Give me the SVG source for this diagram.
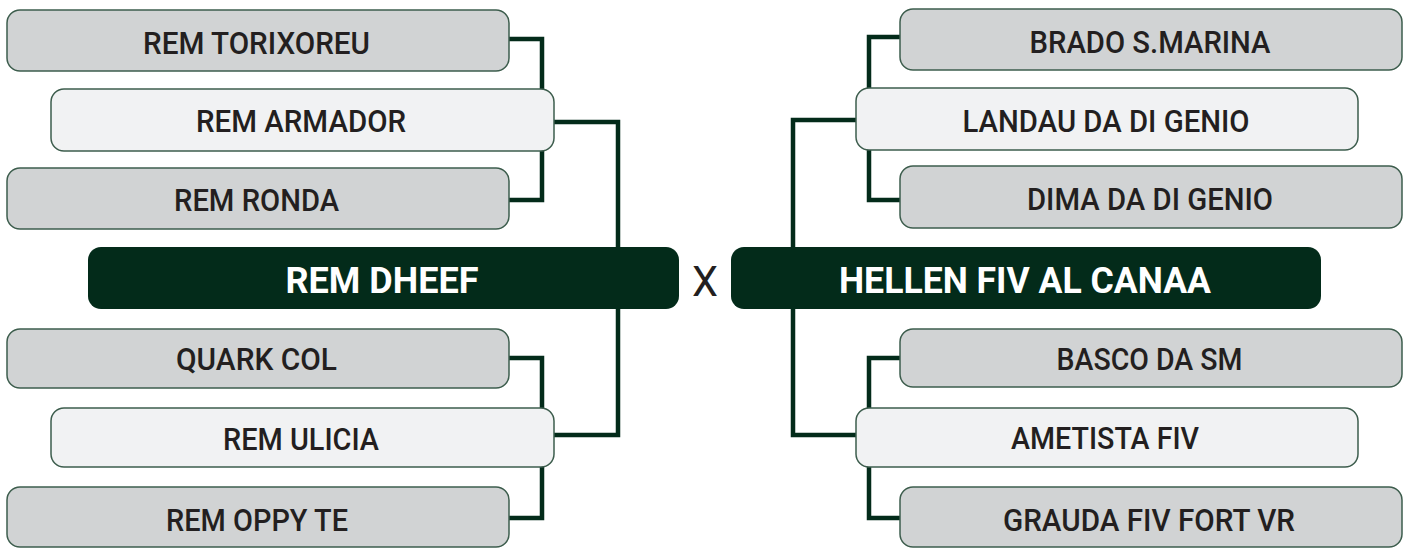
<svg xmlns="http://www.w3.org/2000/svg" width="1412" height="549" viewBox="0 0 1412 549">
  <style>
    .team rect { stroke: #3d5d4d; stroke-width: 1.5; }
    .gray rect { fill: #d1d3d4; }
    .light rect { fill: #f1f2f3; }
    .main rect { fill: #032b1a; stroke: none; }
    text { font-family: Roboto, "Liberation Sans", Arial, sans-serif; text-anchor: middle; }
    .team text { font-size: 32px; font-weight: 500; fill: #231f20; }
    .main text { font-size: 37px; font-weight: 700; fill: #ffffff; }
    .vs { font-size: 43px; font-weight: 400; fill: #231f20; }
    .conn { fill: none; stroke: #032b1a; stroke-width: 4.5; }
  </style>

  <g id="connectors" class="conn">
    <polyline points="509,39 542,39 542,200 509,200"/>
    <polyline points="509,358 542,358 542,518 509,518"/>
    <polyline points="553,122 618,122 618,435 553,435"/>
    <polyline points="900,37 869,37 869,200 900,200"/>
    <polyline points="900,358 869,358 869,518 900,518"/>
    <polyline points="856,120 793,120 793,435 856,435"/>
  </g>

  <g id="rem-torixoreu" class="team gray">
    <rect x="7" y="10" width="502" height="61" rx="13"/>
    <text x="256.5" y="54" textLength="227" lengthAdjust="spacingAndGlyphs">REM TORIXOREU</text>
  </g>
  <g id="rem-armador" class="team light">
    <rect x="51" y="89" width="503" height="62" rx="13"/>
    <text x="301" y="132" textLength="210" lengthAdjust="spacingAndGlyphs">REM ARMADOR</text>
  </g>
  <g id="rem-ronda" class="team gray">
    <rect x="7" y="168" width="502" height="61" rx="13"/>
    <text x="256.5" y="211" textLength="165" lengthAdjust="spacingAndGlyphs">REM RONDA</text>
  </g>
  <g id="rem-dheef" class="main">
    <rect x="88" y="247" width="591" height="62" rx="13"/>
    <text x="382" y="293" textLength="193" lengthAdjust="spacingAndGlyphs">REM DHEEF</text>
  </g>
  <g id="quark-col" class="team gray">
    <rect x="7" y="329" width="502" height="59" rx="13"/>
    <text x="256.5" y="370" textLength="161" lengthAdjust="spacingAndGlyphs">QUARK COL</text>
  </g>
  <g id="rem-ulicia" class="team light">
    <rect x="51" y="408" width="503" height="59" rx="13"/>
    <text x="301" y="450" textLength="156" lengthAdjust="spacingAndGlyphs">REM ULICIA</text>
  </g>
  <g id="rem-oppy-te" class="team gray">
    <rect x="7" y="487" width="502" height="60" rx="13"/>
    <text x="257" y="531" textLength="182" lengthAdjust="spacingAndGlyphs">REM OPPY TE</text>
  </g>

  <text class="vs" x="705" y="296" textLength="26" lengthAdjust="spacingAndGlyphs">X</text>

  <g id="brado-s-marina" class="team gray">
    <rect x="900" y="9" width="502" height="61" rx="13"/>
    <text x="1150" y="53" textLength="241" lengthAdjust="spacingAndGlyphs">BRADO S.MARINA</text>
  </g>
  <g id="landau-da-di-genio" class="team light">
    <rect x="856" y="88" width="502" height="62" rx="13"/>
    <text x="1106" y="132" textLength="287" lengthAdjust="spacingAndGlyphs">LANDAU DA DI GENIO</text>
  </g>
  <g id="dima-da-di-genio" class="team gray">
    <rect x="900" y="166" width="502" height="62" rx="13"/>
    <text x="1150" y="210" textLength="246" lengthAdjust="spacingAndGlyphs">DIMA DA DI GENIO</text>
  </g>
  <g id="hellen-fiv-al-canaa" class="main">
    <rect x="731" y="247" width="590" height="62" rx="13"/>
    <text x="1025" y="293" textLength="372" lengthAdjust="spacingAndGlyphs">HELLEN FIV AL CANAA</text>
  </g>
  <g id="basco-da-sm" class="team gray">
    <rect x="900" y="329" width="502" height="58" rx="13"/>
    <text x="1149.5" y="370" textLength="186" lengthAdjust="spacingAndGlyphs">BASCO DA SM</text>
  </g>
  <g id="ametista-fiv" class="team light">
    <rect x="856" y="408" width="502" height="59" rx="13"/>
    <text x="1105" y="449" textLength="188" lengthAdjust="spacingAndGlyphs">AMETISTA FIV</text>
  </g>
  <g id="grauda-fiv-fort-vr" class="team gray">
    <rect x="900" y="487" width="502" height="60" rx="13"/>
    <text x="1149" y="531" textLength="292" lengthAdjust="spacingAndGlyphs">GRAUDA FIV FORT VR</text>
  </g>
</svg>
